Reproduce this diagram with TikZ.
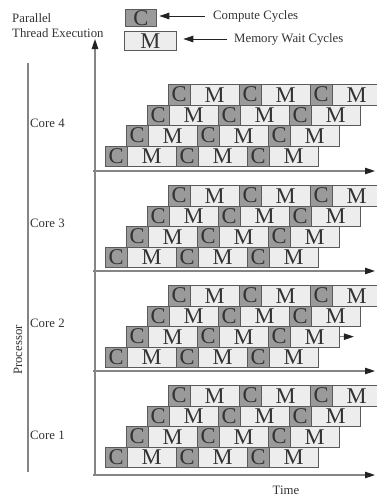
\documentclass[tikz,border=0pt]{standalone}
\usepackage{fontspec}
\setmainfont{Liberation Serif}
\usetikzlibrary{arrows.meta}
\definecolor{cfill}{HTML}{9A9A9A}
\definecolor{mfill}{HTML}{EDEDED}
\definecolor{bordc}{HTML}{5A5A5A}
\definecolor{axisc}{HTML}{858585}
\definecolor{txtc}{HTML}{333333}
\definecolor{tipc}{HTML}{222222}
\begin{document}
\begin{tikzpicture}[x=1pt,y=-1pt,
  blk/.style={draw=bordc, line width=0.8pt, inner sep=0pt, anchor=north west,
    minimum height=20.5pt, text=txtc, font=\fontsize{22.5}{22.5}\selectfont},
  cblk/.style={blk, fill=cfill, minimum width=21.5pt},
  mblk/.style={blk, fill=mfill, minimum width=49.5pt},
  lbl/.style={text=txtc, font=\fontsize{12.8}{14}\selectfont, inner sep=0pt},
  axisline/.style={draw=axisc, line width=1.1pt},
  tiparrow/.style={axisline, -{Triangle[length=10pt,width=6.5pt,color=tipc]}},
  legarrow/.style={draw=tipc, line width=0.8pt, -{Triangle[length=10pt,width=6.5pt,color=tipc]}}]
\useasboundingbox (0,0) rectangle (377,498);

% legend
\node[cblk, minimum width=31pt, minimum height=17pt] (legc) at (125,9) {C};
\node[mblk, minimum width=52pt, minimum height=19pt] (legm) at (124,31) {M};
\node[lbl, anchor=west] (cc) at (213,16) {Compute Cycles};
\node[lbl, anchor=west] (mw) at (234,39) {Memory Wait Cycles};
\draw[legarrow, shorten <=8pt, shorten >=2.5pt] (cc.west) -- (cc.west -| legc.east);
\draw[legarrow, shorten <=7pt, shorten >=6.5pt] (mw.west) -- (mw.west -| legm.east);

% left texts
\node[lbl, anchor=west] (par) at (12,18) {Parallel};
\node[lbl, anchor=west] (thr) at (12,33) {Thread Execution};
\node[lbl, rotate=90] (proc) at (18,350) {Processor};
\node[lbl, anchor=west] (core4) at (30,123) {Core 4};
\node[lbl, anchor=west] (core3) at (30,223) {Core 3};
\node[lbl, anchor=west] (core2) at (30,323) {Core 2};
\node[lbl, anchor=west] (core1) at (30,435) {Core 1};
\node[lbl] (time) at (286,490) {Time};

% processor line
\coordinate (pt) at (28,63);
\coordinate (pb) at (28,472);
\draw[axisline] (pt) -- (pb);

% vertical time-thread axis
\coordinate (vb) at (95,475.5);
\coordinate (vt) at (95,39);
\draw[tiparrow] (vb) -- (vt);

% blocks
\foreach \g/\top/\ax in {1/385/475, 2/285/371, 3/185/271, 4/84/171}{
  \foreach \r in {1,2,3,4}{
    \foreach \k in {0,1,2}{
      \pgfmathsetmacro{\yy}{\top+(\r-1)*20.5}
      \pgfmathsetmacro{\xc}{168-(\r-1)*21+71*\k}
      \pgfmathsetmacro{\xm}{\xc+21.5}
      \node[mblk] (m\g\r\k) at (\xm,\yy) {M};
      \node[cblk] (c\g\r\k) at (\xc,\yy) {C};
    }
  }
  \coordinate (as\g) at (93,\ax);
  \coordinate (ae\g) at (375,\ax);
  \draw[tiparrow] (as\g) -- (ae\g);
}

% small arrow in Core 2 group
\coordinate (sa) at ([xshift=14pt]m232.east);
\draw[tiparrow, line width=0.8pt] (m232.east) -- (sa);
\end{tikzpicture}
\end{document}
